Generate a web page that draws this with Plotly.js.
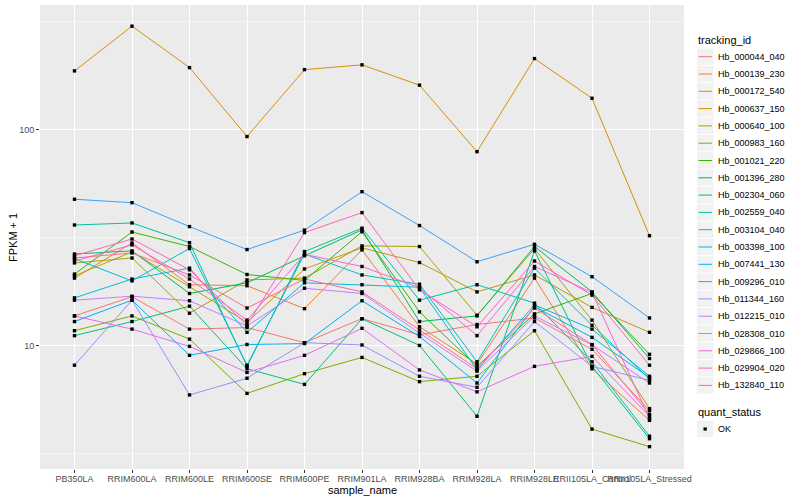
<!DOCTYPE html>
<html>
<head>
<meta charset="utf-8">
<script src="https://cdn.plot.ly/plotly-3.0.1.min.js"></script>
<style>html,body{margin:0;padding:0;background:#fff;}#chart{width:800px;height:500px;}</style>
</head>
<body>
<div id="chart"></div>
<script>
var samples = ["PB350LA","RRIM600LA","RRIM600LE","RRIM600SE","RRIM600PE","RRIM901LA","RRIM928BA","RRIM928LA","RRIM928LE","RRII105LA_Control","RRII105LA_Stressed"];
var trackingIds = ["Hb_000044_040","Hb_000139_230","Hb_000172_540","Hb_000637_150","Hb_000640_100","Hb_000983_160","Hb_001021_220","Hb_001396_280","Hb_002304_060","Hb_002559_040","Hb_003104_040","Hb_003398_100","Hb_007441_130","Hb_009296_010","Hb_011344_160","Hb_012215_010","Hb_028308_010","Hb_029866_100","Hb_029904_020","Hb_132840_110"];
var colors = ["#F8766D","#EA8331","#D89000","#C09B00","#A3A500","#7CAE00","#39B600","#00BB4E","#00BF7D","#00C1A3","#00BFC4","#00BAE0","#00B0F6","#35A2FF","#9590FF","#C77CFF","#E76BF3","#FA62DB","#FF62BC","#FF6C91"];

// FPKM + 1 values per tracking_id, in sample order
var Hb_000044_040 = [13.7, 16.8, 11.9, 12.1, 10.3, 13.3, 11.2, 12.5, 13.4, 9.6, 5.0];
var Hb_000139_230 = [20.5, 29.8, 19.1, 18.9, 14.8, 27.7, 12.2, 8.2, 20.5, 7.8, 4.5];
var Hb_000172_540 = [186.6, 300.6, 193.3, 92.7, 189.2, 199.0, 160.3, 78.9, 212.8, 139.4, 32.2];
var Hb_000637_150 = [21.0, 27.1, 18.7, 12.8, 22.6, 28.3, 24.2, 17.7, 21.2, 15.0, 11.5];
var Hb_000640_100 = [24.1, 25.4, 14.1, 20.1, 20.5, 28.9, 28.7, 13.8, 28.0, 13.1, 5.1];
var Hb_000983_160 = [11.7, 13.7, 10.7, 6.0, 7.4, 8.8, 6.8, 7.2, 11.7, 4.1, 3.4];
var Hb_001021_220 = [21.4, 33.5, 28.7, 21.3, 20.0, 33.6, 14.3, 8.0, 14.0, 17.4, 9.1];
var Hb_001396_280 = [26.5, 27.4, 17.4, 19.5, 26.0, 34.3, 12.9, 13.7, 28.7, 17.7, 8.7];
var Hb_002304_060 = [11.1, 12.9, 15.2, 7.8, 6.6, 13.3, 10.0, 4.7, 27.4, 8.0, 3.7];
var Hb_002559_040 = [36.1, 36.9, 29.9, 8.0, 27.2, 34.9, 16.2, 19.1, 15.7, 8.4, 3.8];
var Hb_003104_040 = [25.2, 19.9, 28.1, 8.1, 26.5, 21.2, 19.2, 8.4, 22.8, 12.4, 7.0];
var Hb_003398_100 = [16.6, 20.3, 22.8, 11.5, 19.5, 19.1, 18.6, 7.7, 15.4, 11.9, 7.2];
var Hb_007441_130 = [12.9, 16.2, 9.0, 10.1, 10.2, 16.1, 11.0, 6.7, 15.1, 10.9, 7.1];
var Hb_009296_010 = [47.5, 45.8, 35.5, 27.8, 34.2, 51.5, 35.9, 24.4, 29.4, 20.8, 13.4];
var Hb_011344_160 = [8.1, 16.2, 5.9, 7.05, 10.3, 10.05, 7.2, 6.4, 12.9, 8.0, 6.9];
var Hb_012215_010 = [16.2, 16.9, 16.1, 12.3, 18.4, 17.4, 11.4, 7.6, 13.7, 10.05, 6.7];
var Hb_028308_010 = [13.7, 11.9, 9.9, 7.5, 9.0, 12.0, 7.7, 6.1, 8.0, 8.9, 4.7];
var Hb_029866_100 = [24.6, 29.2, 20.3, 13.1, 26.4, 23.2, 18.5, 11.1, 23.2, 17.6, 4.6];
var Hb_029904_020 = [26.0, 31.1, 22.4, 12.4, 33.3, 41.2, 18.1, 12.2, 24.6, 17.1, 8.1];
var Hb_132840_110 = [25.4, 26.8, 21.2, 14.9, 20.3, 17.7, 11.8, 7.8, 14.9, 10.1, 4.8];

var yTickVals = [10, 100];
var yTickText = ["10", "100"];
var yMinorVals = [3.1623, 31.623, 316.23];

var seriesValues = [Hb_000044_040,Hb_000139_230,Hb_000172_540,Hb_000637_150,Hb_000640_100,Hb_000983_160,Hb_001021_220,Hb_001396_280,Hb_002304_060,Hb_002559_040,Hb_003104_040,Hb_003398_100,Hb_007441_130,Hb_009296_010,Hb_011344_160,Hb_012215_010,Hb_028308_010,Hb_029866_100,Hb_029904_020,Hb_132840_110];

var FONT = "Liberation Sans, Arial, Helvetica, sans-serif";
var traces = [];
var px = [], py = [];
for (var i = 0; i < trackingIds.length; i++) {
  traces.push({
    type: "scatter", mode: "lines", x: samples, y: seriesValues[i],
    name: trackingIds[i], line: {color: colors[i], width: 1}, showlegend: false,
    hoverinfo: "x+y+name"
  });
  for (var j = 0; j < samples.length; j++) { px.push(samples[j]); py.push(seriesValues[i][j]); }
}
traces.push({
  type: "scatter", mode: "markers", x: px, y: py, name: "OK", showlegend: false,
  marker: {color: "#000000", size: 3.4, symbol: "square"}, hoverinfo: "x+y"
});

// plot area geometry (pixels) for the hand-built ggplot-style legend
var L = 40, R = 116, T = 5, B = 31, W = 800, H = 500;
var pw = W - L - R, ph = H - T - B;
function xp(p) { return (p - L) / pw; }
function yp(p) { return (H - B - p) / ph; }

var shapes = [], annotations = [];
function legendTitle(text, yc) {
  annotations.push({xref: "paper", yref: "paper", x: xp(696), y: yp(yc), xanchor: "left", yanchor: "middle",
    text: text, showarrow: false, font: {family: FONT, size: 11, color: "#000000"}});
}
function keyBox(yc) {
  shapes.push({type: "rect", xref: "paper", yref: "paper", x0: xp(697), x1: xp(713.5), y0: yp(yc - 8.2), y1: yp(yc + 8.2),
    fillcolor: "#F2F2F2", line: {width: 0}, layer: "above"});
}
function keyText(text, yc) {
  annotations.push({xref: "paper", yref: "paper", x: xp(716), y: yp(yc), xanchor: "left", yanchor: "middle",
    text: text, showarrow: false, font: {family: FONT, size: 9, color: "#000000"}});
}
legendTitle("tracking_id", 40);
for (var k = 0; k < trackingIds.length; k++) {
  var yc = 56.7 + k * 17.3;
  keyBox(yc);
  shapes.push({type: "line", xref: "paper", yref: "paper", x0: xp(698.5), x1: xp(712), y0: yp(yc), y1: yp(yc),
    line: {color: colors[k], width: 1}, layer: "above"});
  keyText(trackingIds[k], yc);
}
legendTitle("quant_status", 412);
keyBox(429);
shapes.push({type: "rect", xref: "paper", yref: "paper", x0: xp(703.5), x1: xp(706.8), y0: yp(430.6), y1: yp(427.4),
  fillcolor: "#000000", line: {width: 0}, layer: "above"});
keyText("OK", 429);

annotations.push({xref: "paper", yref: "paper", x: 0.5, y: yp(490), xanchor: "center", yanchor: "middle",
  text: "sample_name", showarrow: false, font: {family: FONT, size: 11, color: "#000000"}});
annotations.push({xref: "paper", yref: "paper", x: xp(13), y: 0.5, xanchor: "center", yanchor: "middle", textangle: -90,
  text: "FPKM + 1", showarrow: false, font: {family: FONT, size: 11, color: "#000000"}});

var layout = {
  width: W, height: H,
  margin: {l: L, r: R, t: T, b: B, pad: 0},
  paper_bgcolor: "#FFFFFF", plot_bgcolor: "#EBEBEB",
  font: {family: FONT, size: 9, color: "#4D4D4D"},
  showlegend: false,
  xaxis: {
    type: "category", range: [-0.6, samples.length - 0.4],
    showgrid: true, gridcolor: "#FFFFFF", gridwidth: 1, zeroline: false, showline: false,
    ticks: "outside", ticklen: 3, tickcolor: "#333333", tickwidth: 1, tickangle: 0,
    ticklabelstandoff: -2,
    tickfont: {family: FONT, size: 9, color: "#4D4D4D"}, fixedrange: true
  },
  yaxis: {
    type: "log", range: [0.428, 2.576],
    tickmode: "array", tickvals: yTickVals, ticktext: yTickText,
    showgrid: true, gridcolor: "#FFFFFF", gridwidth: 1, zeroline: false, showline: false,
    ticks: "outside", ticklen: 3, tickcolor: "#333333", tickwidth: 1,
    tickfont: {family: FONT, size: 9, color: "#4D4D4D"},
    minor: {tickmode: "array", tickvals: yMinorVals, showgrid: true, gridcolor: "#FFFFFF", gridwidth: 0.5, ticks: ""},
    fixedrange: true
  },
  shapes: shapes,
  annotations: annotations
};
Plotly.newPlot("chart", traces, layout, {displayModeBar: false, staticPlot: true});
</script>
</body>
</html>
